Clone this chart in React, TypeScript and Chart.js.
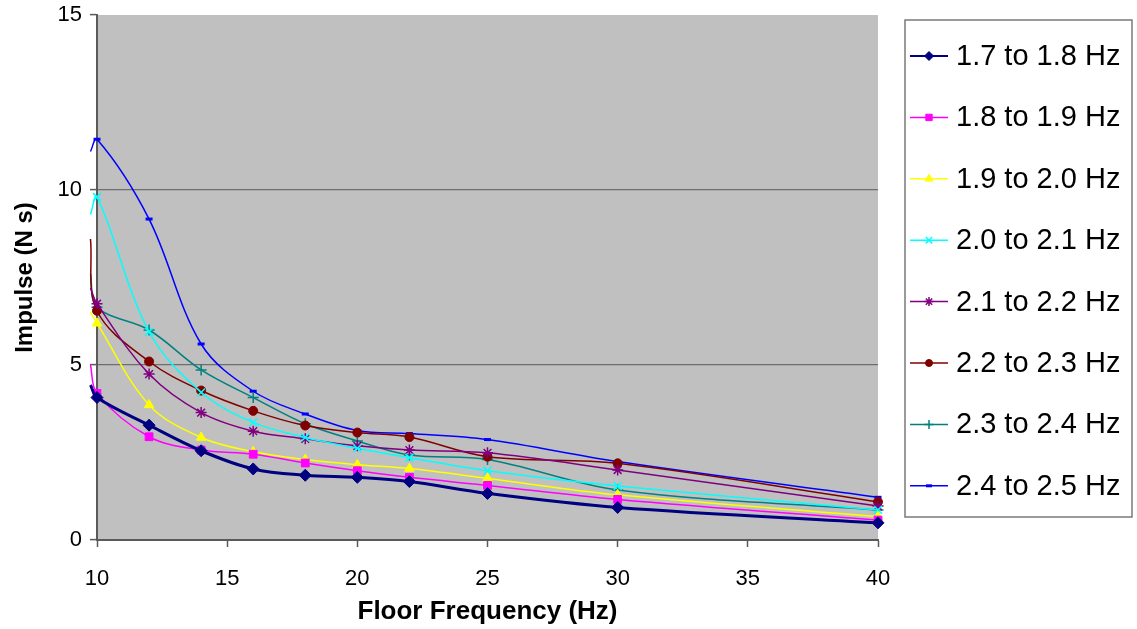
import { useEffect, useRef } from 'react';
import { Chart, registerables } from 'chart.js';
import { drawPoint } from 'chart.js/helpers';

Chart.register(...registerables);

// Floor frequency (Hz); the first entry is the short lead-in left of the 10 Hz axis
const FREQ_HZ = [9.75, 10, 12, 14, 16, 18, 20, 22, 25, 30, 40];

// Impulse (N s) for each pacing-frequency band
const IMP_17_18 = [4.43, 4.07, 3.28, 2.55, 2.03, 1.85, 1.79, 1.67, 1.33, 0.93, 0.49];
const IMP_18_19 = [5.0, 4.19, 2.95, 2.57, 2.45, 2.2, 1.98, 1.79, 1.56, 1.16, 0.57];
const IMP_19_20 = [6.5, 6.19, 3.86, 2.93, 2.52, 2.3, 2.15, 2.04, 1.76, 1.29, 0.67];
const IMP_20_21 = [9.3, 9.8, 5.95, 4.22, 3.36, 2.93, 2.62, 2.35, 1.98, 1.54, 0.86];
const IMP_21_22 = [7.2, 6.75, 4.74, 3.64, 3.11, 2.89, 2.69, 2.57, 2.49, 2.0, 0.97];
const IMP_22_23 = [8.6, 6.55, 5.1, 4.27, 3.69, 3.27, 3.07, 2.94, 2.38, 2.19, 1.09];
const IMP_23_24 = [7.6, 6.65, 6.0, 4.86, 4.07, 3.32, 2.83, 2.43, 2.3, 1.43, 0.86];
const IMP_24_25 = [11.1, 11.45, 9.17, 5.6, 4.25, 3.6, 3.13, 3.04, 2.87, 2.24, 1.22];

const SERIES_LABELS = [
  '1.7 to 1.8 Hz',
  '1.8 to 1.9 Hz',
  '1.9 to 2.0 Hz',
  '2.0 to 2.1 Hz',
  '2.1 to 2.2 Hz',
  '2.2 to 2.3 Hz',
  '2.3 to 2.4 Hz',
  '2.4 to 2.5 Hz',
];
const SERIES_VALUES = [IMP_17_18, IMP_18_19, IMP_19_20, IMP_20_21, IMP_21_22, IMP_22_23, IMP_23_24, IMP_24_25];

const X_MIN = 10;
const X_MAX = 40;
const X_STEP = 5;
const Y_MIN = 0;
const Y_MAX = 15;
const Y_STEP = 5;

const FONT = '"Liberation Sans", Arial, Helvetica, sans-serif';

type SeriesStyle = {
  color: string;
  marker: string;
  radius: number;
  markerBorder: number;
  lineWidth: number;
  legendRadius: number;
};

const STYLES: SeriesStyle[] = [
  { color: '#000080', marker: 'rectRot', radius: 6, markerBorder: 1, lineWidth: 3, legendRadius: 4.5 },
  { color: '#ff00ff', marker: 'rect', radius: 5.5, markerBorder: 1, lineWidth: 1.5, legendRadius: 4.5 },
  { color: '#ffff00', marker: 'triangle', radius: 5.5, markerBorder: 1, lineWidth: 1.5, legendRadius: 4.5 },
  { color: '#00ffff', marker: 'crossRot', radius: 5.5, markerBorder: 1.5, lineWidth: 1.5, legendRadius: 4.5 },
  { color: '#800080', marker: 'star', radius: 5.5, markerBorder: 1.5, lineWidth: 1.5, legendRadius: 4.5 },
  { color: '#800000', marker: 'circle', radius: 4.5, markerBorder: 1, lineWidth: 1.5, legendRadius: 3.5 },
  { color: '#008080', marker: 'cross', radius: 5.5, markerBorder: 1.5, lineWidth: 1.5, legendRadius: 4.5 },
  { color: '#0000ff', marker: 'line', radius: 3.5, markerBorder: 3, lineWidth: 1.5, legendRadius: 3 },
];

// Grey plotting area behind the grid and the curves
const plotBackground = {
  id: 'plotBackground',
  beforeDraw(chart: any) {
    const { ctx, chartArea } = chart;
    const { left, top, right, bottom } = chartArea;
    ctx.save();
    ctx.fillStyle = '#c0c0c0';
    ctx.fillRect(left, top, right - left, bottom - top);
    ctx.restore();
  },
};

// Boxed legend on the right with a line sample and marker per series
const boxedLegend = {
  id: 'boxedLegend',
  afterDraw(chart: any) {
    const { ctx } = chart;
    const boxLeft = 905;
    const boxTop = 20;
    const boxRight = 1132;
    const boxBottom = 517;
    const firstY = 56;
    const rowGap = 61.4;
    ctx.save();
    ctx.fillStyle = '#ffffff';
    ctx.fillRect(boxLeft, boxTop, boxRight - boxLeft, boxBottom - boxTop);
    ctx.strokeStyle = '#7a7a7a';
    ctx.lineWidth = 1.5;
    ctx.strokeRect(boxLeft, boxTop, boxRight - boxLeft, boxBottom - boxTop);
    chart.data.datasets.forEach((ds: any, i: number) => {
      const st = STYLES[i];
      const y = firstY + i * rowGap;
      ctx.strokeStyle = st.color;
      ctx.lineWidth = i === 0 ? 2 : 1.5;
      ctx.beginPath();
      ctx.moveTo(910, y);
      ctx.lineTo(948, y);
      ctx.stroke();
      ctx.fillStyle = st.color;
      ctx.strokeStyle = st.color;
      ctx.lineWidth = st.markerBorder;
      drawPoint(
        ctx,
        { pointStyle: st.marker, rotation: 0, radius: st.legendRadius, borderWidth: st.markerBorder } as any,
        929,
        y
      );
      ctx.fillStyle = '#000000';
      ctx.font = `29px ${FONT}`;
      ctx.textAlign = 'left';
      ctx.textBaseline = 'middle';
      ctx.fillText(ds.label, 956, y + 1);
    });
    ctx.restore();
  },
};

export default function App() {
  const canvasRef = useRef<HTMLCanvasElement | null>(null);

  useEffect(() => {
    const canvas = canvasRef.current;
    if (!canvas) return;

    const datasets = SERIES_LABELS.map((label, i) => {
      const st = STYLES[i];
      const values = SERIES_VALUES[i];
      return {
        label,
        data: FREQ_HZ.map((x, j) => ({ x, y: values[j] })),
        borderColor: st.color,
        backgroundColor: st.color,
        borderWidth: st.lineWidth,
        pointStyle: st.marker,
        pointRadius: FREQ_HZ.map((x) => (x < X_MIN ? 0 : st.radius)),
        pointBorderWidth: st.markerBorder,
        pointBorderColor: st.color,
        pointBackgroundColor: st.color,
        tension: 0.35,
        fill: false,
        clip: { left: 8, right: 8, top: 8, bottom: 8 },
      };
    });

    const chart = new Chart(canvas, {
      type: 'line',
      data: { datasets },
      options: {
        animation: false,
        responsive: true,
        maintainAspectRatio: false,
        devicePixelRatio: 1,
        layout: { padding: { left: 0, top: 15, right: 259, bottom: 0 } },
        elements: { line: { capBezierPoints: false } },
        plugins: {
          legend: { display: false },
          tooltip: { enabled: false },
        },
        scales: {
          x: {
            type: 'linear',
            min: X_MIN,
            max: X_MAX,
            afterFit: (scale: any) => {
              scale.height = 89;
              scale.paddingLeft = 0;
              scale.paddingRight = 0;
            },
            ticks: {
              stepSize: X_STEP,
              color: '#000000',
              font: { family: FONT, size: 22 },
              padding: 19,
              maxRotation: 0,
            },
            grid: {
              drawOnChartArea: false,
              drawTicks: true,
              tickLength: 7,
              tickColor: '#5a5a5a',
              tickWidth: 1.5,
            },
            border: { display: true, color: '#5a5a5a', width: 2 },
            title: {
              display: true,
              text: 'Floor Frequency (Hz)',
              color: '#000000',
              font: { family: FONT, size: 26, weight: 'bold' },
              padding: { top: 0, bottom: 2 },
            },
          },
          y: {
            type: 'linear',
            min: Y_MIN,
            max: Y_MAX,
            afterFit: (scale: any) => {
              scale.width = 97;
              scale.paddingTop = 0;
              scale.paddingBottom = 0;
            },
            ticks: {
              stepSize: Y_STEP,
              color: '#000000',
              font: { family: FONT, size: 22 },
              padding: 8,
            },
            grid: {
              drawTicks: true,
              tickLength: 7,
              tickColor: '#5a5a5a',
              tickWidth: 1.5,
              lineWidth: 1.2,
              color: (c: any) =>
                c.tick && c.tick.value > Y_MIN && c.tick.value < Y_MAX ? '#6e6e6e' : 'rgba(0,0,0,0)',
            },
            border: { display: true, color: '#5a5a5a', width: 2 },
            title: {
              display: true,
              text: 'Impulse (N s)',
              color: '#000000',
              font: { family: FONT, size: 24, weight: 'bold' },
              padding: { top: 11, bottom: 0 },
            },
          },
        },
      } as any,
      plugins: [plotBackground, boxedLegend],
    });

    return () => {
      chart.destroy();
    };
  }, []);

  return (
    <div
      style={{
        position: 'absolute',
        left: 0,
        top: 0,
        width: 1137,
        height: 629,
        background: '#ffffff',
      }}
    >
      <canvas ref={canvasRef} />
    </div>
  );
}
